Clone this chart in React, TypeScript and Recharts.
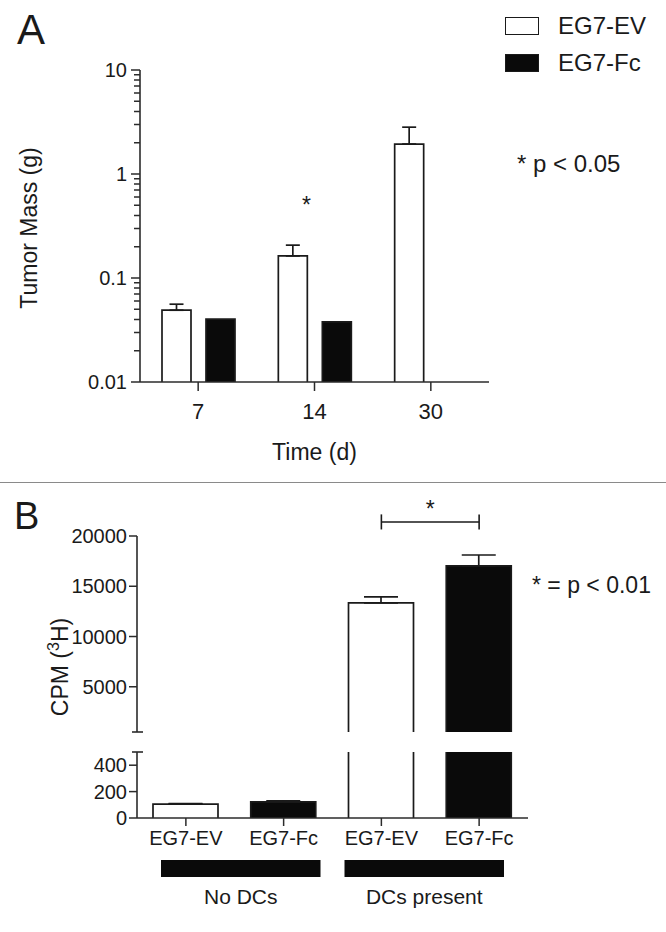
import React from "react";
import {
  BarChart,
  Bar,
  XAxis,
  YAxis,
  ErrorBar,
  Cell,
  Legend,
  Label,
  ReferenceDot,
  ReferenceLine,
} from "recharts";

const FONT = "'Liberation Sans', Arial, Helvetica, sans-serif";
const INK = "#1a1a1a";
const AXIS = "#2b2b2b";
const GAP = 10;

// panel A: tumour mass, log axis
const days = ["7", "14", "30"];
const massEV = [0.049, 0.163, 1.94];
const massEVErr = [0.007, 0.044, 0.88];
const massFc = [0.0403, 0.0378, null];
const seriesA = [
  { key: "ev", name: "EG7-EV", fill: "#ffffff" },
  { key: "fc", name: "EG7-Fc", fill: "#0a0a0a" },
];
const massMajor = [0.01, 0.1, 1, 10];
const massMinor = [2, 3, 4, 5, 6, 7, 8, 9];
const starDay = "14";
const starLevel = 0.5;

// panel B: CPM, broken axis
const conds = ["EV-none", "Fc-none", "EV-DC", "Fc-DC"];
const condLabels = ["EG7-EV", "EG7-Fc", "EG7-EV", "EG7-Fc"];
const condGroups = ["No DCs", "No DCs", "DCs present", "DCs present"];
const cpm = [105, 122, 13340, 17020];
const cpmErr = [5, 8, 600, 1090];
const condFills = ["#ffffff", "#0a0a0a", "#ffffff", "#0a0a0a"];
const cpmBreak = 500;
const cpmTop = 20000;
const upperTicks = [500, 5000, 10000, 15000, 20000];
const lowerTicks = [0, 200, 400, 500];
const sigPair = ["EV-DC", "Fc-DC"];
const sigLevel = 21400;
const sigTick = 750;

const dataA = days.map((day, i) => ({
  day,
  ev: massEV[i],
  evErr: [0, massEVErr[i]],
  fc: massFc[i],
}));

const dataBUpper = conds.map((cond, i) => ({
  cond,
  v: cpm[i] >= cpmBreak ? cpm[i] : null,
  err: cpm[i] >= cpmBreak ? [0, cpmErr[i]] : null,
}));

const dataBLower = conds.map((cond, i) => ({
  cond,
  v: cpm[i],
  err: cpm[i] + cpmErr[i] <= cpmBreak ? [0, cpmErr[i]] : null,
}));

// panel A plot height (480 - 70 top - 20 bottom - 78 x axis)
const A_PLOT_H = 312;
const A_DECADES = massMajor.length - 1;
const A_DECADE = A_PLOT_H / A_DECADES;

// bar without a bottom edge, so the broken axis shows no line at the gap
const EdgeBar = (p: any) => {
  const { x, y, width, height, fill } = p;
  if (x == null || y == null || !width || !height) return null;
  const top = Math.min(y, y + height);
  const bottom = Math.max(y, y + height);
  return (
    <g>
      <rect x={x} y={top} width={width} height={bottom - top} fill={fill} />
      <path
        d={`M${x},${bottom}V${top}H${x + width}V${bottom}`}
        fill="none"
        stroke={INK}
        strokeWidth={1.7}
      />
    </g>
  );
};

// decade ticks with labels; the top tick also lays out the minor ticks below it
const MassTick = (p: any) => {
  const ax = Number(p.x) + GAP;
  const ty = Number(p.y);
  const v = Number(p.payload.value);
  const isTop = v >= massMajor[massMajor.length - 1];
  let minor = "";
  if (isTop) {
    for (let d = 1; d <= A_DECADES; d++) {
      const base = ty + d * A_DECADE;
      massMinor.forEach((s) => {
        const yy = base - A_DECADE * Math.log10(s);
        minor += `M${(ax - 6).toFixed(2)},${yy.toFixed(2)}H${ax.toFixed(2)}`;
      });
    }
  }
  return (
    <g>
      <path d={`M${ax - 9},${ty}H${ax}${minor}`} fill="none" stroke={AXIS} strokeWidth={1.5} />
      <text x={ax - 13} y={ty} dy="0.36em" textAnchor="end" fontSize={20} fill={INK}>
        {p.payload.value}
      </text>
    </g>
  );
};

const CpmTick = (p: any) => {
  const ax = p.x + GAP;
  const v = p.payload.value;
  if (v === cpmBreak) {
    return <line x1={ax - 5} x2={ax + 6} y1={p.y} y2={p.y} stroke={AXIS} strokeWidth={1.6} />;
  }
  return (
    <g>
      <line x1={ax - 8} x2={ax} y1={p.y} y2={p.y} stroke={AXIS} strokeWidth={1.5} />
      <text x={ax - 10} y={p.y} dy="0.36em" textAnchor="end" fontSize={20} fill={INK}>
        {v}
      </text>
    </g>
  );
};

const CondTick = (p: any) => {
  const { x, y, payload } = p;
  const i = payload.index ?? p.index;
  const half = payload.offset || 49;
  const startsGroup = i === 0 || condGroups[i] !== condGroups[i - 1];
  // group bar spans both bands, inset more on the outer side
  const left = x - half + (i === 0 ? 24 : 12);
  const right = x + 3 * half - (i === 0 ? 12 : 24);
  return (
    <g>
      <line x1={x} x2={x} y1={y} y2={y + 8} stroke={AXIS} strokeWidth={1.5} />
      <text x={x} y={y + 27} textAnchor="middle" fontSize={20} fill={INK}>
        {condLabels[i]}
      </text>
      {startsGroup && (
        <g>
          <rect x={left} y={y + 42} width={right - left} height={17} fill="#0a0a0a" />
          <text x={(left + right) / 2} y={y + 86} textAnchor="middle" fontSize={21} fill={INK}>
            {condGroups[i]}
          </text>
        </g>
      )}
    </g>
  );
};

const renderLegend = (props: any) => (
  <div style={{ fontFamily: FONT, fontSize: 24, color: INK }}>
    {(props.payload || []).map((e: any) => (
      <div key={e.value} style={{ display: "flex", alignItems: "center", height: 37 }}>
        <span
          style={{
            display: "inline-block",
            width: 34,
            height: 18,
            boxSizing: "border-box",
            border: `1.5px solid ${INK}`,
            background: e.payload?.fill ?? e.color,
            marginRight: 19,
          }}
        />
        <span>{e.value}</span>
      </div>
    ))}
  </div>
);

const txt = (left: number, top: number, size: number, s: string) => (
  <div
    style={{
      position: "absolute",
      left,
      top,
      fontSize: size,
      lineHeight: 1,
      color: INK,
      whiteSpace: "nowrap",
    }}
  >
    {s}
  </div>
);

export default function App() {
  return (
    <div
      style={{
        position: "absolute",
        left: 0,
        top: 0,
        width: 666,
        height: 932,
        background: "#fff",
        fontFamily: FONT,
        overflow: "hidden",
      }}
    >
      {txt(17, 9, 42, "A")}
      {txt(517, 152, 24, "* p < 0.05")}
      {txt(14, 497, 38, "B")}
      {txt(532, 574, 23, "* = p < 0.01")}
      <div style={{ position: "absolute", left: 0, top: 482, width: 666, height: 1, background: "#8a8a8a" }} />

      <div style={{ position: "absolute", left: 0, top: 0 }}>
        <BarChart
          width={666}
          height={480}
          data={dataA}
          margin={{ top: 70, right: 177, bottom: 20, left: 40 }}
          barSize={29}
          barGap={15}
        >
          <XAxis
            dataKey="day"
            height={78}
            tickSize={9}
            tickMargin={12}
            axisLine={{ stroke: AXIS, strokeWidth: 1.6 }}
            tickLine={{ stroke: AXIS, strokeWidth: 1.5 }}
            tick={{ fontSize: 22, fill: INK }}
          >
            <Label value="Time (d)" position="insideBottom" offset={0} fontSize={23} fill={INK} />
          </XAxis>
          <YAxis
            width={100}
            scale="log"
            type="number"
            domain={[0.01, 10]}
            allowDataOverflow
            ticks={massMajor}
            interval={0}
            tickSize={0}
            tickMargin={GAP}
            axisLine={{ stroke: AXIS, strokeWidth: 1.6 }}
            tickLine={false}
            tick={(p: any) => <MassTick {...p} />}
          >
            <Label
              content={({ viewBox }: any) => (
                <text
                  transform={`translate(${viewBox.x - 3.5},${viewBox.y + viewBox.height / 2 + 2}) rotate(-90)`}
                  textAnchor="middle"
                  fontSize={23}
                  fill={INK}
                >
                  Tumor Mass (g)
                </text>
              )}
            />
          </YAxis>
          <Legend
            layout="vertical"
            align="center"
            verticalAlign="middle"
            wrapperStyle={{ left: 505, top: 7, width: "auto", height: "auto" }}
            content={renderLegend}
          />
          {seriesA.map((s) => (
            <Bar
              key={s.key}
              dataKey={s.key}
              name={s.name}
              fill={s.fill}
              shape={EdgeBar}
              isAnimationActive={false}
            >
              {s.key === "ev" && (
                <ErrorBar dataKey="evErr" width={7} strokeWidth={1.7} stroke={INK} />
              )}
            </Bar>
          ))}
          <ReferenceDot
            x={starDay}
            y={starLevel}
            r={0}
            ifOverflow="visible"
            label={{
              content: ({ viewBox }: any) => (
                <text x={viewBox.x - 8} y={viewBox.y} dy="0.355em" textAnchor="middle" fontSize={23} fill={INK}>
                  *
                </text>
              ),
            }}
          />
        </BarChart>
      </div>

      <div style={{ position: "absolute", left: 0, top: 482 }}>
        <BarChart
          width={666}
          height={268}
          data={dataBUpper}
          margin={{ top: 54, right: 138, bottom: 18, left: 37 }}
          barSize={65}
        >
          <XAxis dataKey="cond" hide />
          <YAxis
            width={100}
            type="number"
            domain={[cpmBreak, cpmTop]}
            allowDataOverflow
            ticks={upperTicks}
            interval={0}
            tickSize={0}
            tickMargin={GAP}
            axisLine={{ stroke: AXIS, strokeWidth: 1.6 }}
            tickLine={false}
            tick={(p: any) => <CpmTick {...p} />}
          >
            <Label
              content={({ viewBox }: any) => (
                <text
                  transform={`translate(${viewBox.x + 31},${viewBox.y + viewBox.height / 2 + 33}) rotate(-90)`}
                  textAnchor="middle"
                  fontSize={23}
                  fill={INK}
                >
                  <tspan>CPM (</tspan>
                  <tspan dy={-9} fontSize={16}>3</tspan>
                  <tspan dy={9}>H)</tspan>
                </text>
              )}
            />
          </YAxis>
          <Bar dataKey="v" shape={EdgeBar} isAnimationActive={false}>
            {condFills.map((f, i) => (
              <Cell key={i} fill={f} />
            ))}
            <ErrorBar dataKey="err" width={17} strokeWidth={1.7} stroke={INK} />
          </Bar>
          <ReferenceLine
            segment={[
              { x: sigPair[0], y: sigLevel },
              { x: sigPair[1], y: sigLevel },
            ]}
            ifOverflow="visible"
            stroke={INK}
            strokeWidth={1.6}
            label={{ value: "*", position: "top", offset: 5, fontSize: 23, fill: INK }}
          />
          {sigPair.map((c) => (
            <ReferenceLine
              key={c}
              segment={[
                { x: c, y: sigLevel - sigTick },
                { x: c, y: sigLevel + sigTick },
              ]}
              ifOverflow="visible"
              stroke={INK}
              strokeWidth={1.6}
            />
          ))}
        </BarChart>
      </div>

      <div style={{ position: "absolute", left: 0, top: 750 }}>
        <BarChart
          width={666}
          height={182}
          data={dataBLower}
          margin={{ top: 2, right: 138, bottom: 14, left: 37 }}
          barSize={65}
        >
          <XAxis
            dataKey="cond"
            height={100}
            interval={0}
            tickSize={0}
            tickMargin={0}
            axisLine={{ stroke: AXIS, strokeWidth: 1.6 }}
            tickLine={false}
            tick={(p: any) => <CondTick {...p} />}
          />
          <YAxis
            width={100}
            type="number"
            domain={[0, cpmBreak]}
            allowDataOverflow
            ticks={lowerTicks}
            interval={0}
            tickSize={0}
            tickMargin={GAP}
            axisLine={{ stroke: AXIS, strokeWidth: 1.6 }}
            tickLine={false}
            tick={(p: any) => <CpmTick {...p} />}
          />
          <Bar dataKey="v" shape={EdgeBar} isAnimationActive={false}>
            {condFills.map((f, i) => (
              <Cell key={i} fill={f} />
            ))}
            <ErrorBar dataKey="err" width={17} strokeWidth={1.7} stroke={INK} />
          </Bar>
        </BarChart>
      </div>
    </div>
  );
}
